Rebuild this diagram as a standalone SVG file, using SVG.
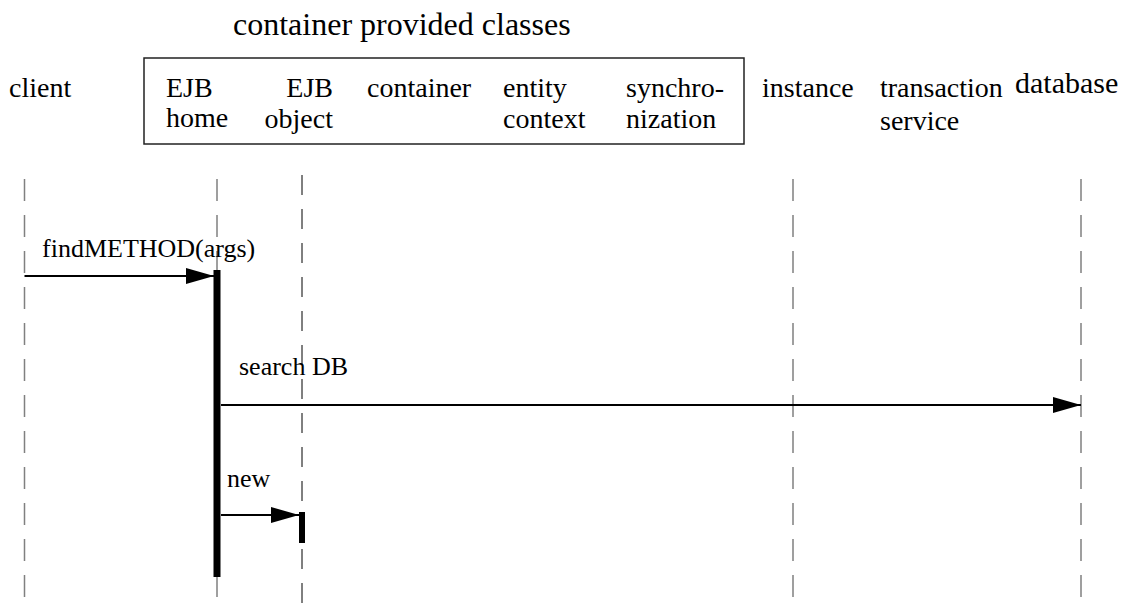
<svg xmlns="http://www.w3.org/2000/svg" width="1137" height="610" viewBox="0 0 1137 610">
<style>
.lbl{font-size:28px}
.msg{font-size:26px}
.ttl{font-size:32px}
.life{stroke:#808080;stroke-width:1.5;stroke-dasharray:22 14;fill:none}
.life2{stroke:#000;stroke-width:1;stroke-dasharray:20 14;fill:none}
.arr{stroke:#000;stroke-width:1.8;fill:none}
.act{fill:#000}
</style>
<defs>
<marker id="ah" markerUnits="userSpaceOnUse" markerWidth="30" markerHeight="18" refX="28" refY="8" orient="auto">
<path d="M0,0 L28,8 L0,16 Z" fill="#000"/>
</marker>
</defs>
<rect width="1137" height="610" fill="#fff"/>
<g font-family="'Liberation Serif', 'DejaVu Serif', serif" fill="#000">
<g id="title"><text class="ttl" x="233" y="35">container provided classes</text></g>
<g id="container-box"><rect x="144" y="58" width="600" height="86" fill="none" stroke="#222" stroke-width="1.5"/></g>
<g id="client"><text class="lbl" x="9" y="97">client</text><line class="life" x1="24.5" y1="168" x2="24.5" y2="610" stroke-dashoffset="-11"/></g>
<g id="ejb-home"><text class="lbl" x="166" y="97">EJB</text><text class="lbl" x="166" y="127">home</text><line class="life" x1="217" y1="168" x2="217" y2="610" stroke-dashoffset="-11"/><rect class="act" x="213.5" y="270" width="7" height="307"/></g>
<g id="ejb-object"><text class="lbl" x="333" y="97" text-anchor="end">EJB</text><text class="lbl" x="333" y="128" text-anchor="end">object</text><line class="life2" x1="302" y1="175" x2="302" y2="610"/><rect class="act" x="299" y="512" width="6" height="31"/></g>
<g id="container"><text class="lbl" x="367" y="97">container</text></g>
<g id="entity-context"><text class="lbl" x="503" y="97">entity</text><text class="lbl" x="503" y="128">context</text></g>
<g id="synchronization"><text class="lbl" x="626" y="97">synchro-</text><text class="lbl" x="626" y="128">nization</text></g>
<g id="instance"><text class="lbl" x="762" y="97">instance</text><line class="life" x1="793" y1="168" x2="793" y2="610" stroke-dashoffset="-11"/></g>
<g id="transaction-service"><text class="lbl" x="880" y="97">transaction</text><text class="lbl" x="880" y="130">service</text></g>
<g id="database"><text class="lbl" x="1015" y="93" style="font-size:30px">database</text><line class="life" x1="1081" y1="168" x2="1081" y2="610" stroke-dashoffset="-11"/></g>
<g id="connectors">
<line class="arr" x1="24.5" y1="276" x2="214" y2="276" marker-end="url(#ah)"/>
<text class="msg" x="42" y="257">findMETHOD(args)</text>
<line class="arr" x1="221" y1="405" x2="1081" y2="405" marker-end="url(#ah)"/>
<text class="msg" x="239" y="375">search DB</text>
<line class="arr" x1="221" y1="515" x2="299" y2="515" marker-end="url(#ah)"/>
<text class="msg" x="227" y="487">new</text>
</g>
</g>
</svg>
